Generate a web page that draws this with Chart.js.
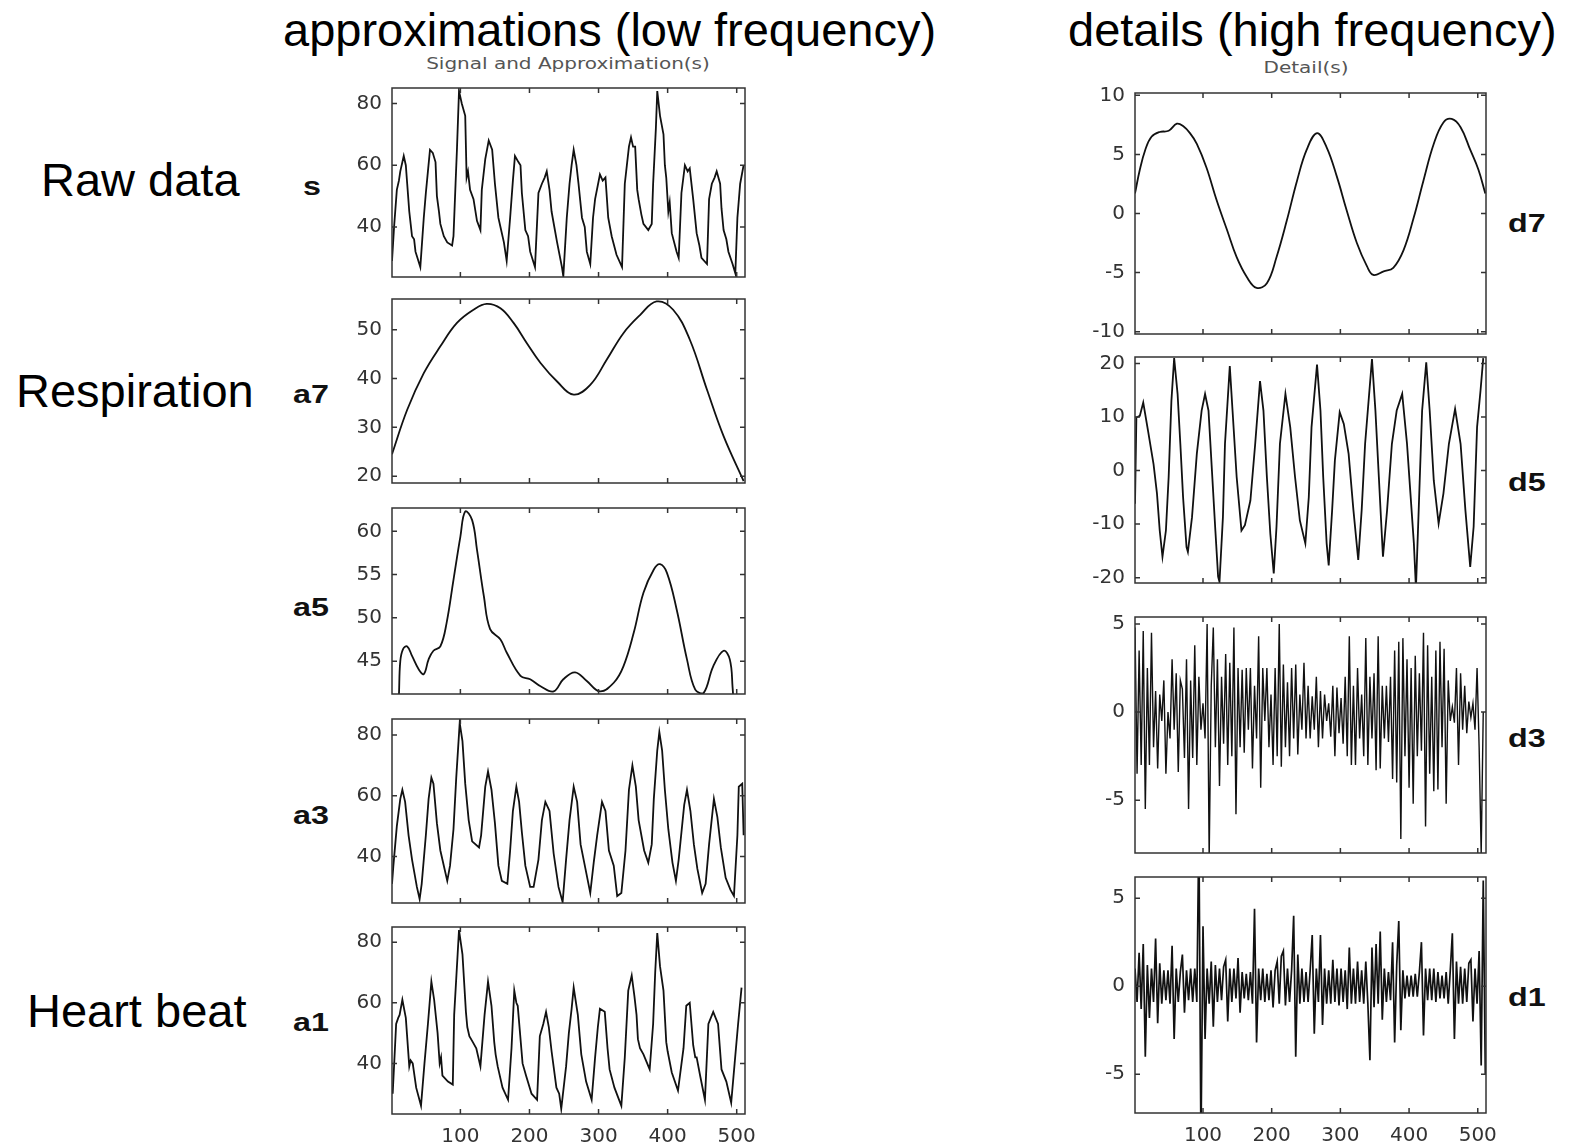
<!DOCTYPE html>
<html>
<head>
<meta charset="utf-8">
<script src="https://cdn.jsdelivr.net/npm/chart.js@4.4.1/dist/chart.umd.min.js"></script>
<style>
  body { margin: 0; background: #fff; }
  #page { position: relative; width: 1571px; height: 1146px; overflow: hidden; }
  canvas { position: absolute; }
  .big { position: absolute; font: 47px "Liberation Sans", Arial, sans-serif; line-height: 47px; white-space: nowrap; color: #000; }
  .tag { position: absolute; font: bold 25px "Liberation Sans", Arial, sans-serif; line-height: 25px; white-space: nowrap; color: #111; transform: scaleX(1.29); transform-origin: 0 0; }
  .sub { position: absolute; font: 16px "DejaVu Sans", sans-serif; line-height: 16px; white-space: nowrap; color: #555; text-align: center; transform: scaleX(1.25); }
</style>
</head>
<body>
<div id="page">
  <div class="big" style="left:283px; top:6px;">approximations (low frequency)</div>
  <div class="big" style="left:1068px; top:6px;">details (high frequency)</div>
  <div class="big" style="left:41px; top:156px;">Raw data</div>
  <div class="big" style="left:16px; top:367px;">Respiration</div>
  <div class="big" style="left:27px; top:987px;">Heart beat</div>
  <div class="sub" style="left:368px; width:400px; top:56px;">Signal and Approximation(s)</div>
  <div class="sub" style="left:1106px; width:400px; top:60px;">Detail(s)</div>
  <div class="tag" style="left:303px; top:174px;">s</div>
  <div class="tag" style="left:293px; top:382px;">a7</div>
  <div class="tag" style="left:293px; top:595px;">a5</div>
  <div class="tag" style="left:293px; top:803px;">a3</div>
  <div class="tag" style="left:293px; top:1010px;">a1</div>
  <div class="tag" style="left:1508px; top:211px;">d7</div>
  <div class="tag" style="left:1508px; top:470px;">d5</div>
  <div class="tag" style="left:1508px; top:726px;">d3</div>
  <div class="tag" style="left:1508px; top:985px;">d1</div>
</div>
<script>
// x axis (sample index)
const xTicks = [100, 200, 300, 400, 500];

// y tick labels per panel
const ticksS = [40, 60, 80];
const ticksA7 = [20, 30, 40, 50];
const ticksA5 = [45, 50, 55, 60];
const ticksA3 = [40, 60, 80];
const ticksA1 = [40, 60, 80];
const ticksD7 = [-10, -5, 0, 5, 10];
const ticksD5 = [-20, -10, 0, 10, 20];
const ticksD3 = [-5, 0, 5];
const ticksD1 = [-5, 0, 5];

// signal s  [sample, value]
const sigS = [[1,29],[4,40],[8,52],[11,55],[13,58],[18,63],[21,60],[23,54],[26,45],[28,41],[30,37],[33,36],[35,32],[42,27],[47,43],[50,51],[53,58],[56,65],[60,64],[64,61],[66,50],[69,45],[71,41],[76,37],[81,35],[88,34],[90,37],[93,54],[95,65],[98,84],[102,80],[107,76],[109,56],[111,58],[114,52],[119,49],[124,42],[129,39],[131,52],[136,62],[141,68],[146,65],[150,54],[155,43],[158,40],[163,35],[167,29],[172,43],[176,55],[179,63],[184,61],[187,60],[189,51],[194,39],[198,37],[201,32],[208,27],[213,51],[218,54],[222,56],[225,58],[229,52],[232,45],[236,40],[240,35],[247,27],[249,24],[254,43],[258,54],[261,60],[264,65],[268,60],[271,54],[276,43],[280,40],[283,32],[288,28],[292,43],[295,49],[302,57],[306,55],[310,56],[314,43],[319,37],[326,31],[334,27],[338,54],[341,60],[344,66],[347,69],[350,66],[353,66],[356,52],[358,49],[362,44],[365,41],[372,39],[377,41],[379,54],[383,72],[385,84],[389,76],[394,70],[396,60],[398,56],[401,45],[403,48],[406,38],[413,32],[416,30],[420,51],[425,60],[429,58],[432,59],[437,49],[442,38],[446,34],[449,30],[457,28],[460,49],[464,54],[468,56],[471,58],[476,54],[478,46],[481,39],[485,36],[488,32],[494,28],[498,25],[501,43],[505,54],[510,60]];

// approximation a7
const sigA7 = [[1,24.5],[23,33.6],[47,41.1],[71,46.6],[95,51.4],[119,54.1],[138,55.3],[158,54.4],[177,51.4],[196,47.3],[216,43.2],[240,39.4],[264,36.7],[288,38.7],[312,43.9],[336,49.3],[360,53],[384,55.8],[408,54.1],[432,48],[457,37.7],[481,28.2],[510,19]];

// approximation a5
const sigA5 = [[9,38],[11,41],[13,45],[17,46.4],[23,46.7],[30,45.6],[40,44],[47,43.5],[54,45.2],[61,46.2],[71,46.7],[80,49.4],[90,54.4],[100,59.4],[107,62.3],[117,61.3],[124,57.9],[134,52.5],[143,48.7],[158,47.5],[167,46],[187,43.3],[201,42.9],[216,42.1],[235,41.5],[249,42.9],[266,43.7],[283,42.7],[302,41.5],[322,42.5],[336,44.4],[351,48.3],[365,52.9],[380,55.6],[389,56.2],[399,55.2],[413,51],[428,45.2],[440,41.7],[452,41.3],[466,44.4],[481,46.2],[490,45.2],[494,42],[497,38]];

// approximation a3
const sigA3 = [[1,31],[3,37],[8,50],[13,59],[16,62],[20,58],[25,47],[30,39],[37,30],[41,26],[44,31],[50,47],[54,59],[58,66],[61,64],[66,51],[71,42],[77,36],[81,32],[85,37],[90,49],[94,66],[99,84],[103,78],[107,64],[112,52],[117,45],[127,43],[130,47],[136,63],[140,68],[145,62],[150,51],[155,37],[160,32],[168,31],[172,42],[176,55],[181,63],[185,58],[189,48],[194,37],[201,30],[206,30],[213,39],[218,52],[223,58],[229,55],[235,41],[242,30],[248,25],[253,39],[258,52],[264,63],[269,58],[274,44],[281,36],[288,28],[293,38],[298,47],[305,58],[310,55],[315,42],[322,37],[327,27],[333,28],[339,42],[344,62],[349,70],[354,63],[358,52],[366,42],[372,38],[377,44],[380,59],[385,75],[388,81],[392,75],[396,62],[401,49],[407,38],[412,32],[416,39],[424,57],[428,62],[433,55],[438,44],[443,36],[450,28],[455,31],[460,44],[467,59],[472,53],[477,43],[484,33],[491,29],[496,27],[501,47],[503,63],[508,64],[510,47]];

// approximation a1
const sigA1 = [[2,30],[7,53],[10,55],[12,56],[16,61],[21,55],[26,39],[28,41],[31,40],[36,32],[43,26],[48,40],[53,53],[58,67],[62,61],[67,50],[70,40],[72,42],[74,36],[82,34],[89,33],[91,56],[96,76],[98,84],[103,76],[108,57],[110,52],[113,49],[118,47],[123,45],[129,39],[135,56],[140,67],[145,59],[149,47],[151,43],[154,39],[161,32],[169,28],[174,45],[178,64],[181,60],[183,59],[190,40],[195,36],[203,30],[211,28],[215,49],[220,53],[224,57],[228,52],[232,44],[239,32],[243,30],[246,25],[253,39],[257,50],[261,58],[264,65],[270,56],[275,43],[282,34],[290,28],[295,42],[299,52],[302,58],[309,57],[313,45],[316,38],[323,32],[333,26],[338,42],[343,64],[348,69],[352,62],[355,56],[357,48],[360,45],[365,43],[374,38],[379,53],[382,70],[385,83],[389,72],[394,64],[398,47],[400,44],[406,37],[415,31],[423,45],[427,59],[432,60],[437,46],[440,42],[442,42],[447,36],[454,28],[459,53],[466,57],[473,53],[478,38],[485,34],[492,27],[497,40],[502,53],[507,65]];

// detail d7
const sigD7 = [[1,1.7],[8,3.7],[16,5.4],[25,6.5],[37,6.9],[50,7.0],[62,7.6],[71,7.4],[81,6.8],[91,5.9],[105,3.9],[120,1.1],[135,-1.4],[149,-3.7],[164,-5.4],[178,-6.3],[193,-5.9],[207,-3.7],[222,-0.6],[237,2.8],[251,5.4],[266,6.8],[280,5.6],[295,3.1],[309,0.3],[324,-2.5],[339,-4.5],[348,-5.2],[363,-4.9],[377,-4.6],[392,-3.1],[407,-0.3],[421,2.8],[436,5.9],[450,7.7],[462,8.0],[475,7.3],[489,5.4],[501,3.7],[511,1.7]];

// detail d5
const sigD5 = [[1,-6.2],[3,9.9],[8,10.2],[13,12.7],[20,7.4],[28,1.2],[33,-4.3],[37,-11.2],[41,-16.1],[46,-11.2],[50,-1.2],[54,13],[58,21],[63,14.3],[67,5],[71,-5],[76,-14.3],[78,-15.2],[84,-8.7],[91,3.1],[98,11.2],[103,14.3],[108,11.2],[113,0],[118,-11.2],[122,-19.8],[124,-20.8],[129,-8.7],[132,5],[139,19.5],[143,11.2],[149,-1.2],[156,-11.2],[161,-10.2],[169,-5.6],[176,5],[183,16.7],[188,11.2],[193,-1.2],[198,-11.8],[203,-19.2],[207,-10.5],[212,5],[220,14.3],[227,8.1],[234,-1.2],[241,-9.3],[249,-13.6],[254,-5],[258,8.1],[266,19.8],[271,11.2],[275,-1.2],[280,-13.6],[283,-17.7],[288,-7.4],[292,1.9],[299,10.9],[305,8.7],[312,3.1],[319,-7.4],[326,-16.7],[331,-7.4],[336,5],[346,20.8],[351,11.2],[356,-1.2],[362,-16.1],[368,-7.4],[375,5],[382,11.2],[390,14.3],[397,5],[402,-4.3],[407,-13.6],[410,-22],[414,-7.4],[419,11.2],[425,20.2],[430,11.2],[436,-1.9],[443,-9.9],[450,-4.3],[458,5],[467,11.5],[475,5],[482,-7.4],[489,-18],[494,-10.5],[499,8.1],[504,14.9],[508,21]];

// detail d3, one value every 3 samples
const stepD3 = 3;
const sigD3 = [4.8,-3.5,3.5,-3.0,4.6,-5.5,2.5,-3.0,
  4.5,-2.0,1.2,-3.2,1.0,-0.5,1.8,-3.5,0.0,-1.5,3.0,-1.0,2.2,
  -3.4,1.8,1.3,-2.6,3.0,-5.5,1.8,-2.6,3.8,-3.0,2.0,-1.0,0.5,-1.5,5.0,
  -8.2,
  1.5,4.8,-2.0,3.0,-4.2,2.0,-1.8,3.3,-3.0,2.8,-2.5,4.8,-5.8,2.5,-2.0,2.4,-2.3,
  2.5,-1.0,2.5,-3.2,1.5,-1.5,4.3,-4.3,2.5,-0.5,2.5,-2.0,1.0,-3.0,2.5,-2.5,5.0,-3.1,2.7,-2.0,1.7,-2.5,2.5,-1.5,
  2.7,-2.4,1.0,-1.0,2.8,-1.5,1.5,-1.5,0.9,-1.0,2.0,-2.0,1.2,-1.5,1.0,-0.5,0.5,-1.4,1.5,-2.5,1.4,-1.2,0.8,-1.8,
  2.0,-2.5,4.3,-3.0,1.5,-3.0,2.5,-1.5,1.0,-2.5,4.2,-3.0,2.0,-1.5,2.2,-3.3,4.3,-3.2,1.5,-1.5,1.5,-1.7,2.0,-3.8,
  3.5,-4.0,4.0,-7.2,4.2,-2.5,3.0,-4.3,2.5,-5.2,3.2,-2.5,2.2,-2.2,4.5,-6.5,3.8,-3.5,2.0,-4.5,3.5,-4.4,
  4.0,-2.0,3.6,-5.2,1.8,-0.5,0.3,-0.6,2.5,-3.0,2.2,-1.0,1.5,-1.2,0.6,-0.3,0.5,-1.0,2.5,-2.0,-8.0,0.0];

// detail d1, one value every 3 samples
const stepD1 = 3;
const sigD1 = [1.0,-0.9,1.9,-1.3,2.4,-4.0,1.2,-1.8,1.0,-0.9,
  2.7,-2.1,1.3,-1.0,0.9,-0.8,0.9,-1.0,2.3,-3.0,
  1.0,-0.9,0.8,1.8,-1.5,0.9,-0.8,1.0,-0.9,1.0,
  -0.9,9.0,-9.0,3.4,-3.0,1.0,-1.0,1.4,-2.3,1.2,
  -0.9,1.0,-0.8,1.1,1.5,-2.0,1.0,-0.9,1.0,-0.7,
  1.6,-1.5,0.8,-0.7,0.7,-0.8,0.8,-1.0,4.4,-3.2,
  1.0,-0.8,1.0,-0.9,0.7,-0.8,0.9,-1.2,0.9,1.4,
  -1.0,1.7,2.0,-1.1,1.0,-0.9,0.9,4.0,-4.0,1.8,
  -1.0,1.0,-0.9,0.8,-0.9,0.9,2.9,-2.7,1.0,-0.9,
  2.9,-2.2,1.0,-1.0,0.9,-1.0,1.5,-0.9,1.0,-1.1,
  1.0,-0.9,0.9,-1.3,2.2,-1.0,1.0,-1.0,1.4,-0.9,
  0.9,-1.0,1.4,-1.0,-4.2,2.2,-1.2,2.4,-1.0,3.1,
  -1.9,1.0,-0.9,0.8,-0.8,2.5,-3.2,1.2,3.7,-2.5,
  0.9,-0.7,0.6,-0.6,0.6,-0.6,0.7,-0.6,0.8,2.5,
  -2.8,1.0,-0.8,1.0,-0.8,1.0,-0.9,0.8,-0.7,0.6,
  -0.7,0.8,-1.0,0.9,3.0,-3.0,1.4,-1.0,1.1,-1.0,
  1.0,-0.9,1.3,1.5,-2.0,1.0,-1.0,2.0,-4.5,6.0,-5.0];

const pairs = arr => arr.map(p => ({ x: p[0], y: p[1] }));
const stepped = (arr, step) => arr.map((v, i) => ({ x: 1 + i * step, y: v }));

// inward tick marks + closed box, matlab style
const frame = {
  id: 'frame',
  afterDatasetsDraw(chart) {
    const { ctx, chartArea: a, scales: { x, y } } = chart;
    ctx.save();
    ctx.strokeStyle = '#333';
    ctx.lineWidth = 1.5;
    ctx.strokeRect(a.left, a.top, a.right - a.left, a.bottom - a.top);
    ctx.beginPath();
    xTicks.forEach(v => {
      const px = x.getPixelForValue(v);
      ctx.moveTo(px, a.bottom); ctx.lineTo(px, a.bottom - 5);
      ctx.moveTo(px, a.top); ctx.lineTo(px, a.top + 5);
    });
    y.ticks.forEach(t => {
      const py = y.getPixelForValue(t.value);
      ctx.moveTo(a.left, py); ctx.lineTo(a.left + 5, py);
      ctx.moveTo(a.right, py); ctx.lineTo(a.right - 5, py);
    });
    ctx.stroke();
    ctx.restore();
  }
};

const panels = [
  { data: pairs(sigS),  yMin: 23.8,  yMax: 85,   yTicks: ticksS,  box: [392, 88, 353, 189] },
  { data: pairs(sigA7), yMin: 18.6,  yMax: 56.3, yTicks: ticksA7, box: [392, 299, 353, 184], smooth: true },
  { data: pairs(sigA5), yMin: 41.2,  yMax: 62.7, yTicks: ticksA5, box: [392, 508, 353, 186], smooth: true },
  { data: pairs(sigA3), yMin: 24.7,  yMax: 85.3, yTicks: ticksA3, box: [392, 719, 353, 184] },
  { data: pairs(sigA1), yMin: 23.3,  yMax: 85,   yTicks: ticksA1, box: [392, 927, 353, 187], xLabels: true },
  { data: pairs(sigD7), yMin: -10.2, yMax: 10.2, yTicks: ticksD7, box: [1135, 93, 351, 241], smooth: true },
  { data: pairs(sigD5), yMin: -21,   yMax: 21.2, yTicks: ticksD5, box: [1135, 357, 351, 226] },
  { data: stepped(sigD3, stepD3), yMin: -8, yMax: 5.4, yTicks: ticksD3, box: [1135, 617, 351, 236], lw: 1.4 },
  { data: stepped(sigD1, stepD1), yMin: -7.2, yMax: 6.2, yTicks: ticksD1, box: [1135, 877, 351, 236], lw: 1.7, xLabels: true }
];

const AXW = 70, PT = 15, PR = 25;
const tickFont = { family: 'DejaVu Sans', size: 20 };
const page = document.getElementById('page');

function build(p, adj) {
  const [l, t, w, h] = p.box;
  const PB = p.xLabels ? 0 : 15;
  const XH = p.xLabels ? 40 : 0;
  const cv = document.createElement('canvas');
  cv.width = AXW + w + PR + adj.l + adj.r;
  cv.height = PT + h + PB + XH + adj.t + adj.b;
  cv.style.left = (l - AXW - adj.l) + 'px';
  cv.style.top = (t - PT - adj.t) + 'px';
  page.appendChild(cv);

  const chart = new Chart(cv.getContext('2d'), {
    type: 'line',
    data: {
      datasets: [{
        data: p.data,
        borderColor: '#111',
        borderWidth: p.lw || 1.8,
        pointRadius: 0,
        tension: p.smooth ? 0.4 : 0,
        fill: false
      }]
    },
    options: {
      responsive: false,
      maintainAspectRatio: false,
      animation: false,
      events: [],
      layout: { padding: { left: 0, top: PT, right: PR, bottom: PB } },
      plugins: { legend: { display: false }, tooltip: { enabled: false } },
      scales: {
        x: {
          type: 'linear',
          min: 1,
          max: 512,
          display: !!p.xLabels,
          grid: { display: false },
          border: { display: false },
          afterBuildTicks: s => { s.ticks = xTicks.map(v => ({ value: v })); },
          afterFit: s => { s.height = XH; },
          ticks: { font: tickFont, color: '#333', padding: 3, autoSkip: false, maxRotation: 0 }
        },
        y: {
          min: p.yMin,
          max: p.yMax,
          grid: { display: false, drawTicks: false },
          border: { display: false },
          afterBuildTicks: s => { s.ticks = p.yTicks.map(v => ({ value: v })); },
          afterFit: s => { s.width = AXW; },
          ticks: { font: tickFont, color: '#333', padding: 10 }
        }
      }
    },
    plugins: [frame]
  });
  return { chart, cv, PB, XH };
}

// build once, then shift the canvas so the plot box lands where the reference has it
panels.forEach(p => {
  const first = build(p, { l: 0, t: 0, r: 0, b: 0 });
  const a = first.chart.chartArea;
  const adj = {
    l: Math.round(a.left - AXW),
    t: Math.round(a.top - PT),
    r: Math.round((first.cv.width - PR) - a.right),
    b: Math.round((first.cv.height - first.PB - first.XH) - a.bottom)
  };
  if (adj.l || adj.t || adj.r || adj.b) {
    first.chart.destroy();
    first.cv.remove();
    build(p, adj);
  }
});
</script>
</body>
</html>
